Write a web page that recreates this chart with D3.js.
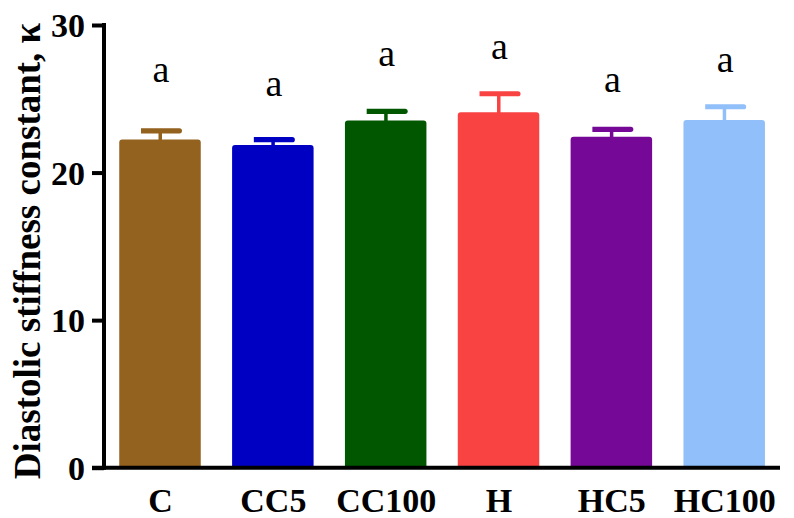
<!DOCTYPE html>
<html><head><meta charset="utf-8">
<script src="https://cdn.jsdelivr.net/npm/d3@7"></script>
<style>body{margin:0;background:#fff}svg{display:block}</style>
</head><body>
<script>
const categories = ["C","CC5","CC100","H","HC5","HC100"];
const means = [22.24, 21.87, 23.53, 24.08, 22.43, 23.56];
const sems = [0.59, 0.36, 0.62, 1.26, 0.50, 0.90];
const letters = ["a","a","a","a","a","a"];
const letterY = [26.12, 25.19, 27.24, 27.68, 25.48, 26.84];
const colors = ["#93621F","#0000C2","#005700","#F94343","#750896","#91BFF9"];
const yTicks = [0,10,20,30];
const yTitle = "Diastolic stiffness constant, κ";

const W = 794, H = 518;
const svg = d3.select("body").append("svg").attr("width", W).attr("height", H);
const y = d3.scaleLinear().domain([0,30]).range([467.7, 25]);
const x = d3.scalePoint().domain(categories).range([160, 724.2]);
const bw = 81.5;
const serif = "'Liberation Serif','Times New Roman',serif";

// bars
svg.selectAll("path.bar").data(categories).enter().append("path")
  .attr("class","bar")
  .attr("fill", (d,i)=>colors[i])
  .attr("d", (d,i)=>{
    const x0 = x(d)-bw/2, x1 = x(d)+bw/2, t = y(means[i]), b = y(0), r = 3;
    return `M${x0},${b}V${t+r}Q${x0},${t} ${x0+r},${t}H${x1-r}Q${x1},${t} ${x1},${t+r}V${b}Z`;
  });

// error stems
svg.selectAll("rect.stem").data(categories).enter().append("rect")
  .attr("class","stem")
  .attr("x", d=>x(d)-1.5).attr("width", 3.5)
  .attr("y", (d,i)=>y(means[i]+sems[i]))
  .attr("height", (d,i)=>y(means[i])-y(means[i]+sems[i])+1)
  .attr("fill", (d,i)=>colors[i]);
// caps
svg.selectAll("path.cap").data(categories).enter().append("path")
  .attr("class","cap")
  .attr("fill", (d,i)=>colors[i])
  .attr("d", (d,i)=>{
    const c = y(means[i]+sems[i]), t = c-2.6, b = c+2.6, l = x(d)-19, r = x(d)+22;
    return `M${l},${t}H${r-2.6}A2.6 2.6 0 0 1 ${r-2.6},${b}H${l}Z`;
  });

// letters
svg.selectAll("text.let").data(categories).enter().append("text")
  .attr("class","let")
  .attr("x", d=>x(d)+1).attr("y", (d,i)=>y(letterY[i]))
  .attr("text-anchor","middle").attr("font-family", serif).attr("font-size", 38)
  .attr("fill","#000").text((d,i)=>letters[i]);

// y axis
const yAxis = d3.axisLeft(y).tickValues(yTicks).tickSize(12).tickPadding(7).tickFormat(d3.format("d"));
const gy = svg.append("g").attr("transform","translate(104,0)").call(yAxis);
gy.select(".domain").attr("stroke","#000").attr("stroke-width",4).attr("d", `M0,${y(30)-2}V${y(0)+2}`);
gy.selectAll(".tick line").attr("stroke","#000").attr("stroke-width",4).attr("x2",-12);
gy.selectAll(".tick text").attr("font-family", serif).attr("font-size", 34).attr("font-weight","bold").attr("fill","#000").attr("dy","0.34em");

// x axis
const gx = svg.append("g").attr("transform", `translate(0,${y(0)})`)
  .call(d3.axisBottom(x).tickSize(0).tickPadding(30));
gx.select(".domain").attr("stroke","#000").attr("stroke-width",4).attr("d","M92,0H780");
gx.selectAll(".tick text").attr("font-family", serif).attr("font-size", 34).attr("font-weight","bold").attr("fill","#000").attr("dy","0").attr("y", 44);

// y title
svg.append("text").attr("transform","translate(40,251) rotate(-90)")
  .attr("text-anchor","middle").attr("font-family", serif).attr("font-size", 37).attr("font-weight","bold")
  .attr("fill","#000").text(yTitle);
</script>
</body></html>
